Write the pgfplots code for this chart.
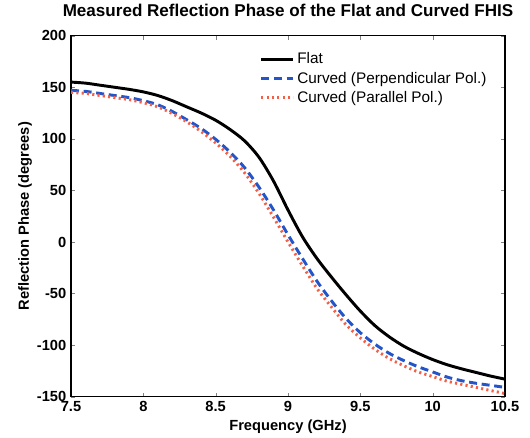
\documentclass[border=0pt]{standalone}
\usepackage{fontspec}
\setmainfont{Liberation Sans}
\usepackage{pgfplots}
\pgfplotsset{compat=1.18}

\definecolor{perpblue}{RGB}{35,85,200}
\definecolor{parred}{RGB}{245,95,70}

\begin{document}
\begin{tikzpicture}
\begin{axis}[
    name=ax,
    scale only axis,
    width=325.5pt, height=270.75pt,
    xmin=7.5, xmax=10.5, ymin=-150, ymax=200,
    xtick={7.5,8,8.5,9,9.5,10,10.5},
    ytick={-150,-100,-50,0,50,100,150,200},
    tick align=inside,
    major tick length=3pt,
    axis line style={line width=0.8pt},
    /pgf/number format/assume math mode=true,
    tick label style={font=\fontsize{11}{12}\selectfont\bfseries},
    xticklabel style={/pgf/number format/fixed},
    title={Measured Reflection Phase of the Flat and Curved FHIS},
    title style={font=\fontsize{12.8}{14}\selectfont\bfseries, at={(axis description cs:0.5,1.047)}, anchor=center},
    xlabel={Frequency (GHz)},
    xlabel style={font=\fontsize{11}{12}\selectfont\bfseries, at={(axis description cs:0.5,-0.083)}, anchor=center},
    ylabel={Reflection Phase (degrees)},
    ylabel style={font=\fontsize{11}{12}\selectfont\bfseries, at={(axis description cs:-0.106,0.5)}, anchor=center},
    legend style={at={(axis description cs:0.425,0.968)}, anchor=north west, draw=none, fill=none,
        font=\fontsize{11.5}{13}\selectfont, row sep=0.5pt},
    legend cell align=left,
    legend image code/.code={\draw[#1] (0pt,0pt) -- (24pt,0pt);},
]
% Flat
\addplot[black, line width=2.2pt, smooth] coordinates {
(7.5,155)(7.6,154)(7.7,152)(7.8,150)(7.9,148)(8.0,145.5)(8.1,142)(8.2,137)
(8.3,131)(8.4,125)(8.5,118)(8.6,109)(8.7,98)(8.8,82)(8.9,59)(9.0,31)
(9.1,5)(9.2,-16)(9.3,-34)(9.4,-51)(9.5,-67)(9.6,-81)(9.7,-92)(9.8,-101)
(9.9,-108)(10.0,-114)(10.1,-119)(10.2,-123)(10.3,-126.5)(10.4,-130)(10.5,-133)
};
\addlegendentry{Flat}
% Curved, perpendicular polarisation
\addplot[perpblue, line width=2.2pt, smooth, dash pattern=on 6pt off 3.5pt] coordinates {
(7.5,147)(7.6,146)(7.7,144)(7.8,142)(7.9,140)(8.0,137)(8.1,133)(8.2,126.5)
(8.3,118.5)(8.4,110)(8.5,99.5)(8.6,87)(8.7,72)(8.8,53)(8.9,31)(9.0,7)
(9.1,-16)(9.2,-38)(9.3,-57)(9.4,-74)(9.5,-88)(9.6,-99)(9.7,-108)(9.8,-115)
(9.9,-121)(10.0,-126)(10.1,-131)(10.2,-134.5)(10.3,-137)(10.4,-139)(10.5,-141)
};
\addlegendentry{Curved (Perpendicular Pol.)}
% Curved, parallel polarisation
\addplot[parred, line width=2.2pt, smooth, dash pattern=on 1.6pt off 2.4pt] coordinates {
(7.5,145)(7.6,144)(7.7,142)(7.8,140)(7.9,138)(8.0,135)(8.1,131)(8.2,124.5)
(8.3,116.5)(8.4,107)(8.5,96)(8.6,83)(8.7,67)(8.8,47)(8.9,24)(9.0,0)
(9.1,-23)(9.2,-45)(9.3,-63)(9.4,-80)(9.5,-93)(9.6,-104)(9.7,-113)(9.8,-120)
(9.9,-126)(10.0,-130.5)(10.1,-135)(10.2,-138)(10.3,-141)(10.4,-144)(10.5,-147)
};
\addlegendentry{Curved (Parallel Pol.)}
\end{axis}
\path (ax.south west) ++(-53.25pt,-30.75pt) rectangle ++(397.5pt,327pt);
\end{tikzpicture}
\end{document}
